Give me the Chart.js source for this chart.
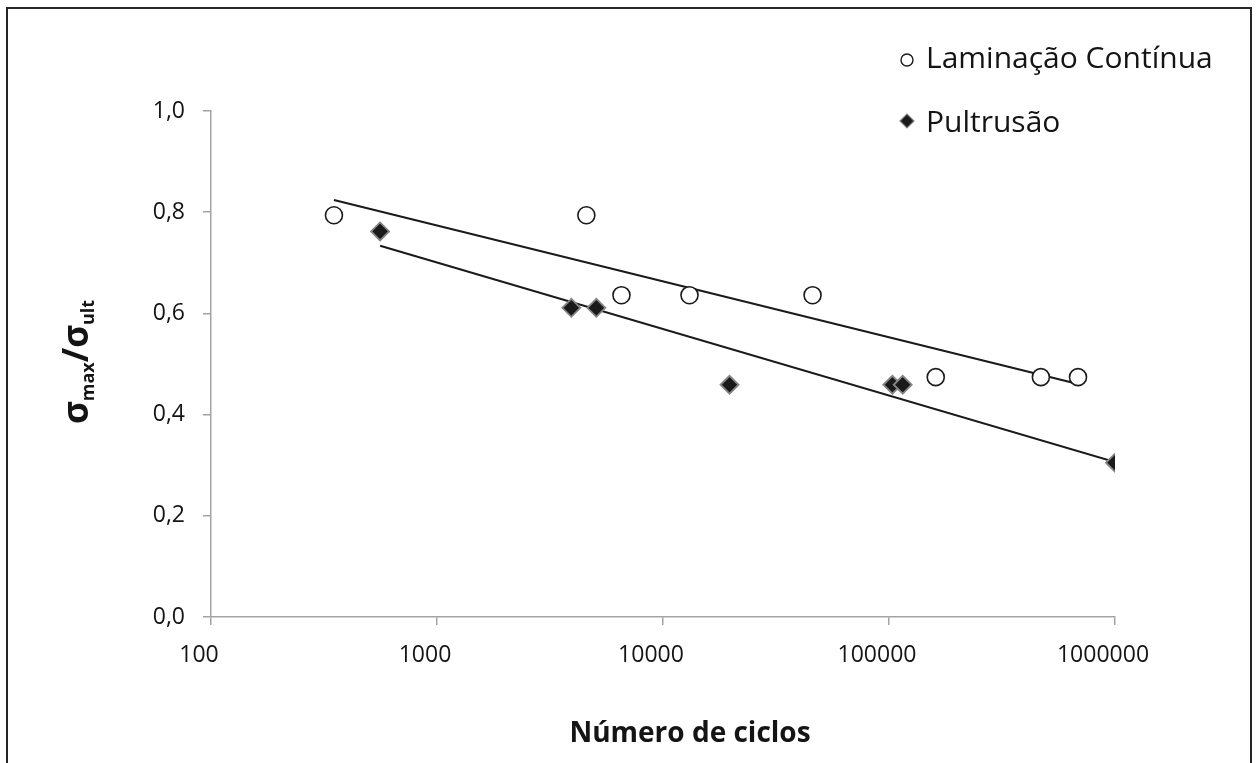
<!DOCTYPE html>
<html>
<head>
<meta charset="utf-8">
<script src="https://cdn.jsdelivr.net/npm/chart.js@4/dist/chart.umd.min.js"></script>
<style>
  html, body { margin: 0; padding: 0; background: #fff; }
  #wrap { width: 1257px; height: 763px; }
</style>
</head>
<body>
<div id="wrap"><canvas id="fadigaChart" width="1257" height="763"></canvas></div>
<script>
// dados
const seriesNames = ["Laminação Contínua", "Pultrusão"];
const laminacaoCiclos = [350, 4580, 6550, 13100, 45900, 161000, 470000, 686000];
const laminacaoTensao = [0.794, 0.794, 0.636, 0.636, 0.636, 0.474, 0.474, 0.474];
const pultrusaoCiclos = [560, 3930, 5070, 19700, 103500, 115000, 1000000];
const pultrusaoTensao = [0.762, 0.611, 0.611, 0.459, 0.459, 0.459, 0.305];
const xTicks = [100, 1000, 10000, 100000, 1000000];
const yTicks = [0, 0.2, 0.4, 0.6, 0.8, 1.0];
const xTitle = "Número de ciclos";

const FONT = "'Open Sans', 'Liberation Sans', sans-serif";
const TEXT = "#141414";
const AXIS = "#a3a3a3";

const toPoints = (xs, ys) => xs.map((x, i) => ({ x: x, y: ys[i] }));

// linha de tendência logarítmica (mínimos quadrados em ln x), como no Excel
function logTrend(xs, ys) {
  const lx = xs.map(v => Math.log(v));
  const n = lx.length;
  const mx = lx.reduce((a, b) => a + b, 0) / n;
  const my = ys.reduce((a, b) => a + b, 0) / n;
  let sxy = 0, sxx = 0;
  lx.forEach((v, i) => { sxy += (v - mx) * (ys[i] - my); sxx += (v - mx) * (v - mx); });
  const a = sxy / sxx, b = my - a * mx;
  const x0 = Math.min(...xs), x1 = Math.max(...xs);
  return [{ x: x0, y: a * Math.log(x0) + b }, { x: x1, y: a * Math.log(x1) + b }];
}

const bgAndBorder = {
  id: "bgAndBorder",
  beforeDraw(chart) {
    const ctx = chart.ctx;
    ctx.save();
    ctx.fillStyle = "#fff";
    ctx.fillRect(0, 0, chart.width, chart.height);
    ctx.strokeStyle = "#262626";
    ctx.lineWidth = 2;
    ctx.strokeRect(7, 8, 1244, 800);
    ctx.restore();
  }
};

const titlesAndLegend = {
  id: "titlesAndLegend",
  afterDraw(chart) {
    const ctx = chart.ctx;
    ctx.save();
    ctx.fillStyle = TEXT;

    // título eixo x
    ctx.font = "bold 28px " + FONT;
    ctx.textAlign = "center";
    ctx.textBaseline = "alphabetic";
    ctx.fillText(xTitle, 690, 742);

    // título eixo y com subscritos
    const parts = [
      ["σ", "bold 35px " + FONT, 0],
      ["max", "bold 18px " + FONT, 6],
      ["/", "bold 35px " + FONT, 0],
      ["σ", "bold 35px " + FONT, 0],
      ["ult", "bold 18px " + FONT, 6]
    ];
    let total = 0;
    parts.forEach(p => { ctx.font = p[1]; total += ctx.measureText(p[0]).width; });
    ctx.translate(88, 362);
    ctx.rotate(-Math.PI / 2);
    ctx.textAlign = "left";
    let pos = -total / 2;
    parts.forEach(p => {
      ctx.font = p[1];
      ctx.fillText(p[0], pos, p[2]);
      pos += ctx.measureText(p[0]).width;
    });
    ctx.setTransform(1, 0, 0, 1, 0, 0);

    // legenda
    ctx.font = "30px " + FONT;
    ctx.textAlign = "left";
    ctx.fillText(seriesNames[0], 926, 68);
    ctx.fillText(seriesNames[1], 926, 132);
    ctx.beginPath();
    ctx.arc(907, 60, 6, 0, Math.PI * 2);
    ctx.fillStyle = "#fff";
    ctx.fill();
    ctx.lineWidth = 1.4;
    ctx.strokeStyle = "#1a1a1a";
    ctx.stroke();
    ctx.beginPath();
    ctx.moveTo(900, 121); ctx.lineTo(907, 114); ctx.lineTo(914, 121); ctx.lineTo(907, 128);
    ctx.closePath();
    ctx.fillStyle = "#1a1a1a";
    ctx.fill();
    ctx.strokeStyle = "#808080";
    ctx.lineWidth = 1.2;
    ctx.stroke();
    ctx.restore();
  }
};

new Chart(document.getElementById("fadigaChart"), {
  type: "scatter",
  data: {
    datasets: [
      {
        label: seriesNames[0],
        data: toPoints(laminacaoCiclos, laminacaoTensao),
        pointStyle: "circle",
        pointRadius: 8.5,
        pointBackgroundColor: "#fff",
        pointBorderColor: "#1a1a1a",
        pointBorderWidth: 1.6,
        order: 1
      },
      {
        label: seriesNames[1],
        data: toPoints(pultrusaoCiclos, pultrusaoTensao),
        pointStyle: "rectRot",
        pointRadius: 9,
        pointBackgroundColor: "#1a1a1a",
        pointBorderColor: "#858585",
        pointBorderWidth: 1.8,
        order: 1
      },
      {
        label: "tendência " + seriesNames[0],
        data: logTrend(laminacaoCiclos, laminacaoTensao),
        showLine: true,
        pointRadius: 0,
        borderColor: "#1a1a1a",
        borderWidth: 2,
        order: 2
      },
      {
        label: "tendência " + seriesNames[1],
        data: logTrend(pultrusaoCiclos, pultrusaoTensao),
        showLine: true,
        pointRadius: 0,
        borderColor: "#1a1a1a",
        borderWidth: 2,
        order: 2
      }
    ]
  },
  options: {
    responsive: false,
    animation: false,
    layout: { padding: { left: 0, right: 142, top: 111, bottom: 0 } },
    plugins: { legend: { display: false }, tooltip: { enabled: false } },
    scales: {
      x: {
        type: "logarithmic",
        min: 100,
        max: 1000000,
        afterFit(scale) { scale.height = 146; },
        afterBuildTicks(scale) { scale.ticks = xTicks.map(v => ({ value: v })); },
        border: { display: true, color: AXIS, width: 1.5 },
        grid: { display: true, drawOnChartArea: false, drawTicks: true, tickLength: 8, color: AXIS, lineWidth: 1.5 },
        ticks: {
          color: TEXT,
          font: { family: FONT, size: 23 },
          padding: 17,
          labelOffset: -12,
          maxRotation: 0,
          autoSkip: false,
          callback: v => String(v)
        }
      },
      y: {
        min: 0,
        max: 1,
        afterFit(scale) { scale.width = 211; },
        afterBuildTicks(scale) { scale.ticks = yTicks.map(v => ({ value: v })); },
        border: { display: true, color: AXIS, width: 1.5 },
        grid: { display: true, drawOnChartArea: false, drawTicks: true, tickLength: 8, color: AXIS, lineWidth: 1.5 },
        ticks: {
          color: TEXT,
          font: { family: FONT, size: 23 },
          padding: 18,
          callback: v => v.toFixed(1).replace(".", ",")
        }
      }
    }
  },
  plugins: [bgAndBorder, titlesAndLegend]
});
</script>
</body>
</html>
